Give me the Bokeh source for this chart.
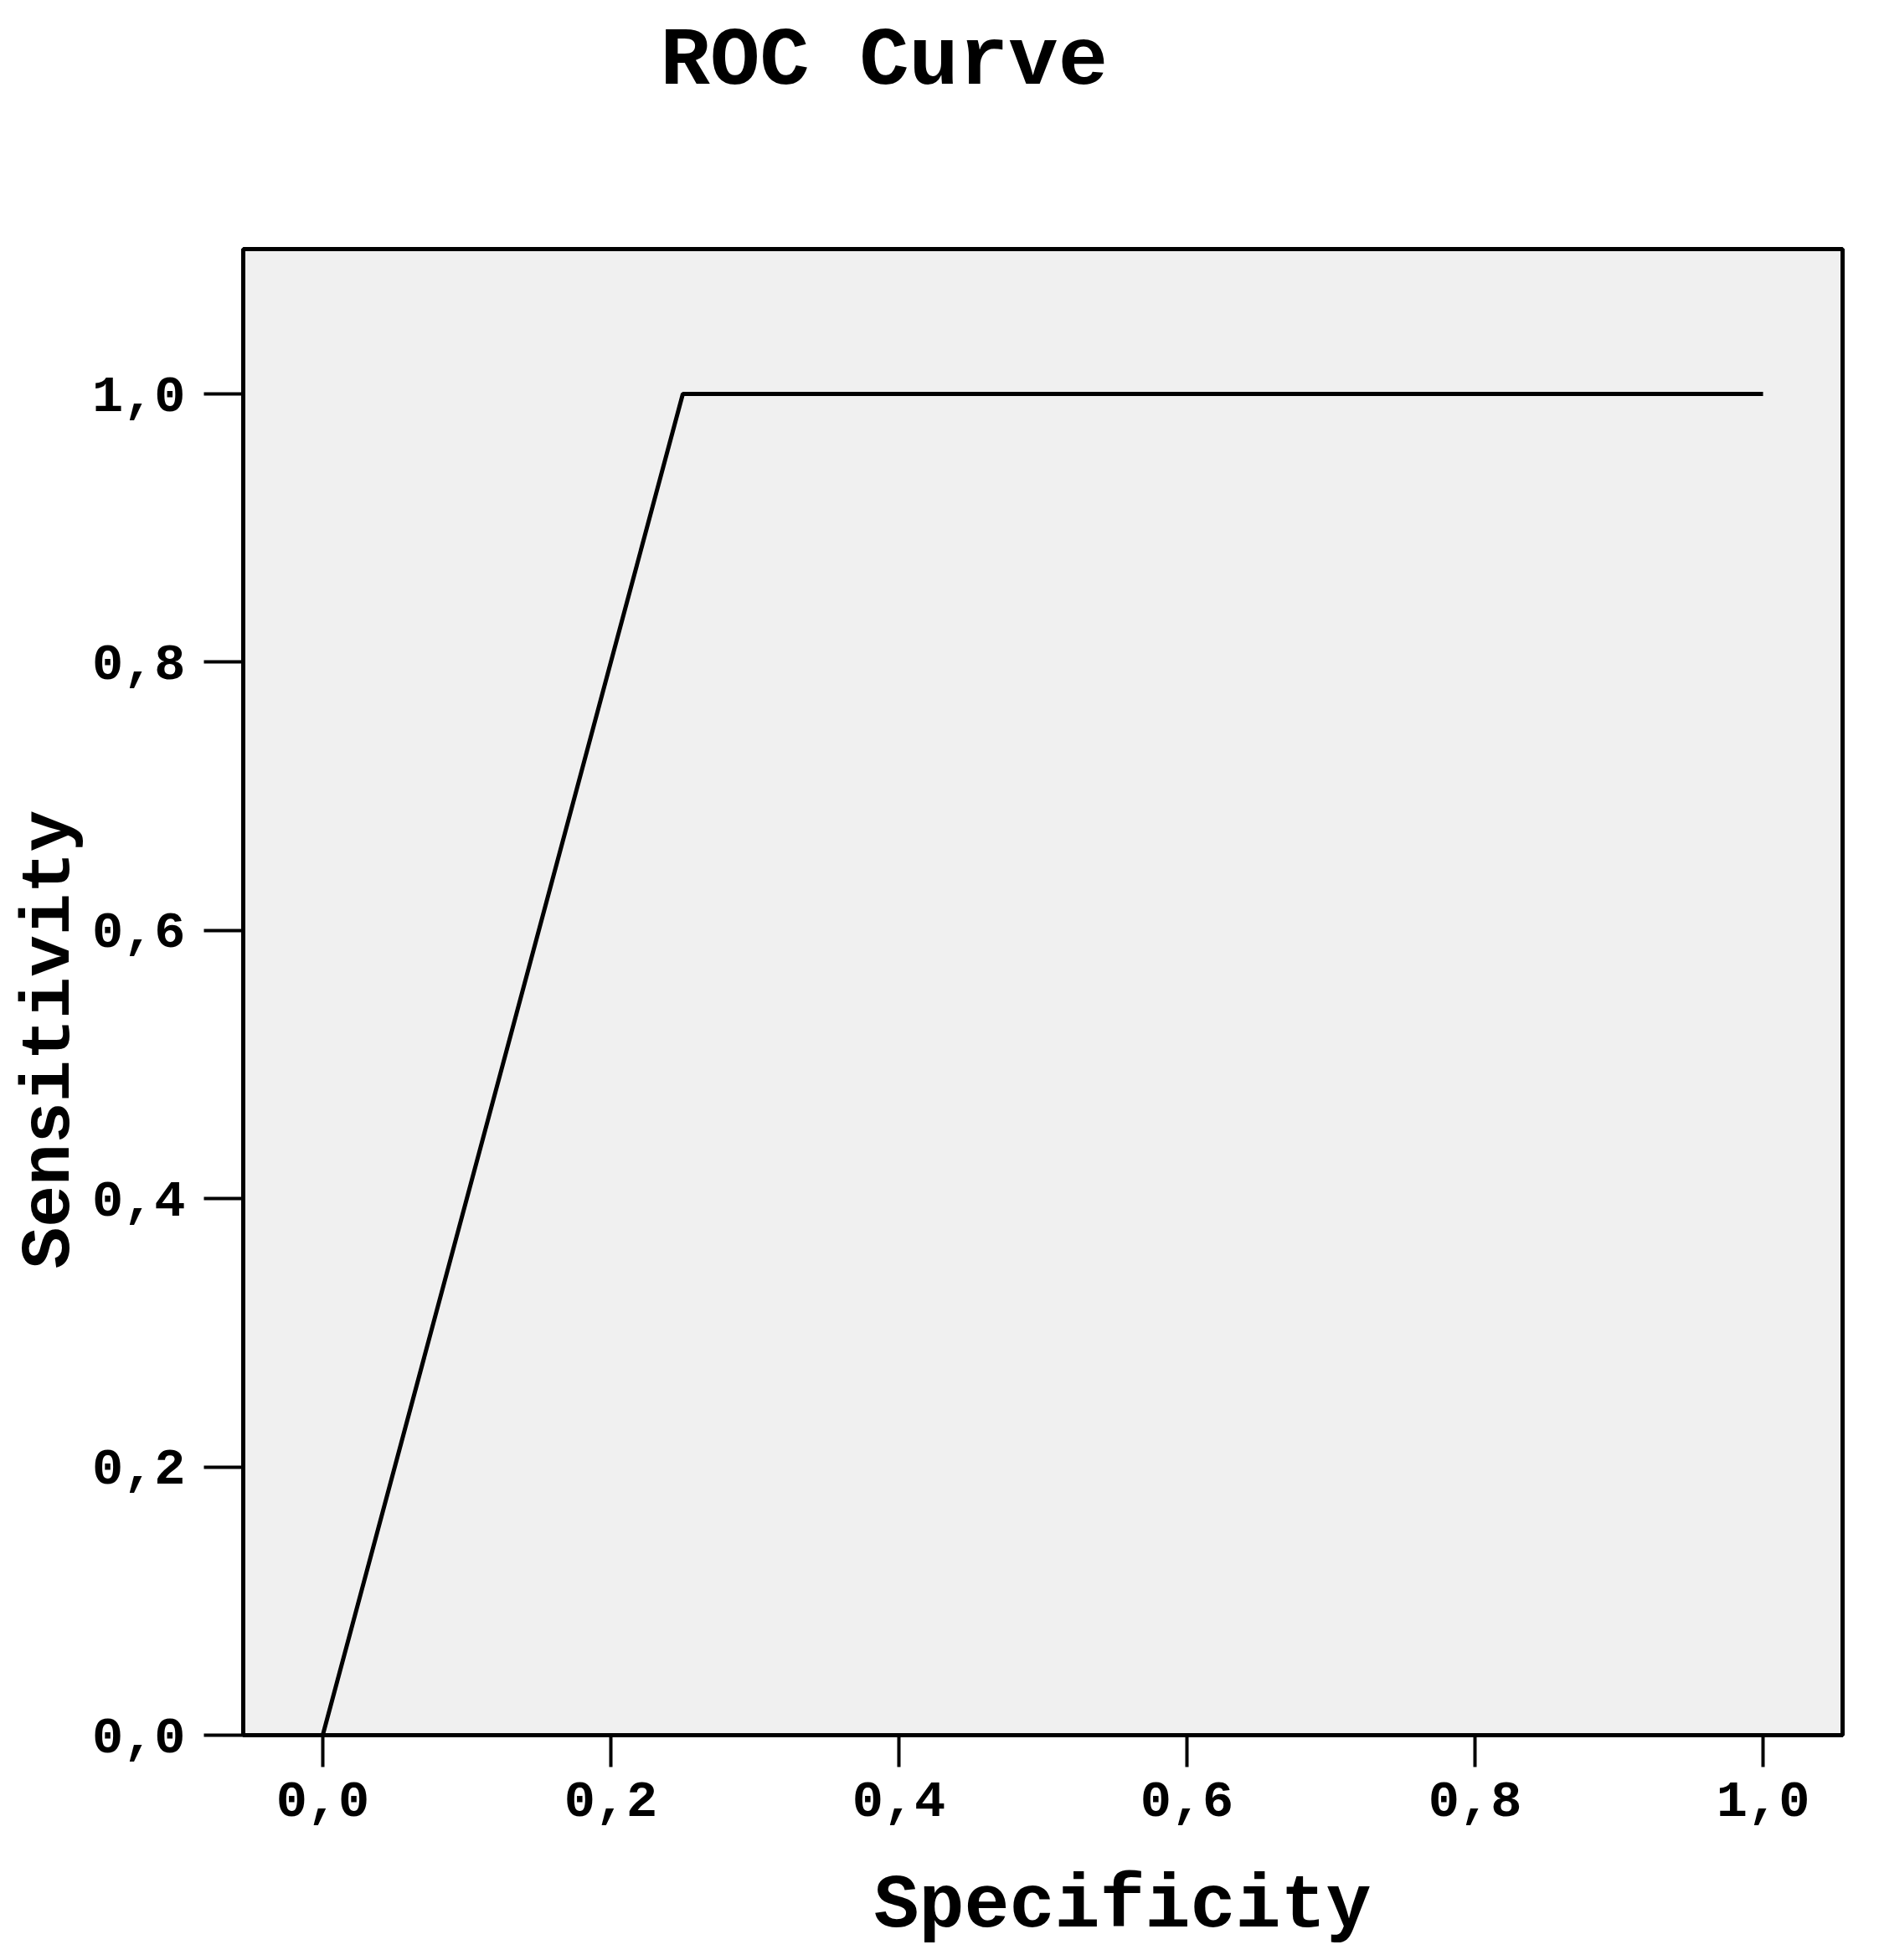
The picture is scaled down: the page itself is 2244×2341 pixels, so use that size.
from bokeh.plotting import figure
from bokeh.models import Range1d, FixedTicker, Title, LinearAxis
from bokeh.embed import file_html
from bokeh.resources import INLINE

# ROC curve points
specificity = [0.0, 0.25, 1.0]
sensitivity = [0.0, 1.0, 1.0]

tick_values = [0.0, 0.2, 0.4, 0.6, 0.8, 1.0]
tick_labels = ["0,0", "0,2", "0,4", "0,6", "0,8", "1,0"]

title_text = "ROC Curve"
x_label = "Specificity"
y_label = "Sensitivity"

FONT = "Liberation Mono"

p = figure(frame_width=1910, frame_height=1775, output_backend="svg", toolbar_location=None,
           x_range=Range1d(-0.0552, 1.0552), y_range=Range1d(0, 1.108),
           min_border_left=290, min_border_top=297, min_border_right=36, min_border_bottom=255,
           background_fill_color="#f0f0f0", border_fill_color="white")
p.title = None

p.outline_line_color = "black"
p.outline_line_width = 5
p.outline_line_alpha = 1.0
p.xgrid.visible = False
p.ygrid.visible = False

for ax in (p.xaxis[0], p.yaxis[0]):
    ax.ticker = FixedTicker(ticks=tick_values)
    ax.major_label_overrides = {v: s for v, s in zip(tick_values, tick_labels)}
    ax.major_label_text_font = FONT
    ax.major_label_text_font_size = "62px"
    ax.major_label_text_font_style = "bold"
    ax.major_label_text_color = "black"
    ax.axis_line_color = "black"
    ax.axis_line_width = 5
    ax.major_tick_line_color = "black"
    ax.major_tick_line_width = 4
    ax.major_tick_in = 0
    ax.minor_tick_line_color = None

p.xaxis.major_tick_out = 38
p.xaxis.major_label_standoff = 18
p.yaxis.major_tick_out = 47
p.yaxis.major_label_standoff = 22
p.yaxis.major_label_orientation = "horizontal"

p.line(specificity, sensitivity, line_color="black", line_width=5)


def spacer(size):
    # a blank axis (one hair-thin white tick, no label, no line) that only
    # reserves room between the frame and a side title
    return LinearAxis(ticker=FixedTicker(ticks=[0.5]), major_tick_out=size, major_tick_in=0,
                      minor_tick_out=0, minor_tick_in=0, axis_line_color=None,
                      major_tick_line_color="white", major_tick_line_width=0.01,
                      minor_tick_line_color=None, major_label_text_color=None,
                      major_label_standoff=0, major_label_text_font_size="1px")


p.add_layout(spacer(163), "above")
p.add_layout(Title(text=title_text, align="left", offset=498, standoff=10,
                   text_font=FONT, text_font_size="99px", text_font_style="bold",
                   text_color="black"), "above")

p.add_layout(spacer(52), "below")
p.add_layout(Title(text=x_label, align="left", offset=753, standoff=0,
                   text_font=FONT, text_font_size="90px", text_font_style="bold",
                   text_color="black"), "below")

p.add_layout(Title(text=y_label, align="left", offset=557, standoff=0,
                   text_font=FONT, text_font_size="83px", text_font_style="bold",
                   text_color="black"), "left")

open("out.html", "w").write(file_html(p, INLINE))
